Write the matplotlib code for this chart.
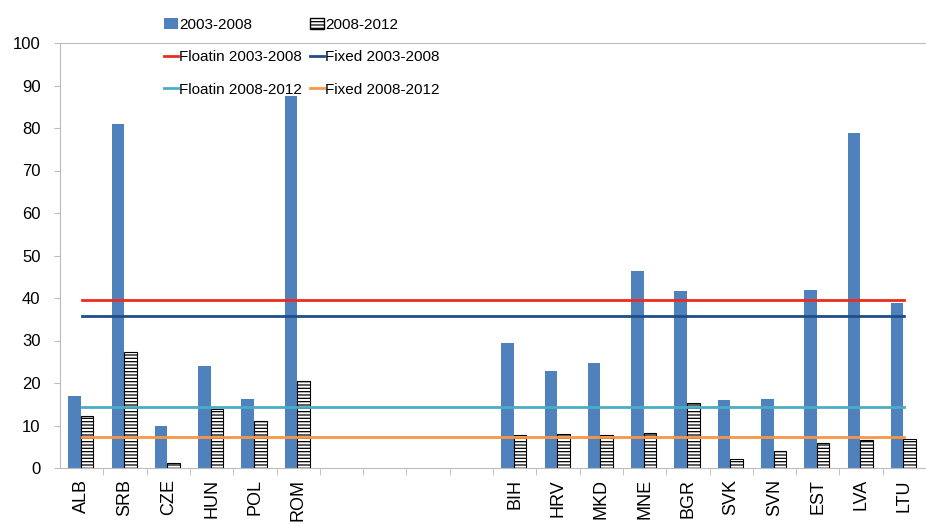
"""Exchange regime comparison: bar chart with group average lines."""

import matplotlib.pyplot as plt
import numpy as np
from matplotlib.patches import Patch
from matplotlib.lines import Line2D

plt.rcParams['font.family'] = ['Liberation Sans', 'DejaVu Sans']
plt.rcParams['hatch.linewidth'] = 0.9

# Categories (blank slots separate floating and fixed regimes)
countries = ['ALB', 'SRB', 'CZE', 'HUN', 'POL', 'ROM', '', '', '', '',
             'BIH', 'HRV', 'MKD', 'MNE', 'BGR', 'SVK', 'SVN', 'EST', 'LVA', 'LTU']
nan = np.nan
vals_0308 = [17.0, 81.0, 10.0, 24.0, 16.2, 87.5, nan, nan, nan, nan,
             29.3, 22.8, 24.8, 46.3, 41.7, 16.0, 16.3, 42.0, 78.8, 38.8]
vals_0812 = [12.2, 27.2, 1.2, 14.0, 11.0, 20.5, nan, nan, nan, nan,
             7.8, 8.0, 7.8, 8.3, 15.2, 2.2, 4.0, 5.8, 6.5, 6.8]

# Group averages
floating_0308 = 39.5
fixed_0308 = 35.8
floating_0812 = 14.3
fixed_0812 = 7.2

BLUE = '#4F81BD'
RED = '#EE2A1C'
NAVY = '#1F4E8A'
CYAN = '#4BACC6'
ORANGE = '#F79646'

fig = plt.figure(figsize=(9.26, 5.24), dpi=100)
ax = fig.add_axes([60 / 926, 56 / 524, 866 / 926, 425 / 524])

x = np.arange(len(countries))
w = 0.29
ax.bar(x - w / 2 - 0.02, vals_0308, w, color=BLUE, zorder=2)
ax.bar(x + w / 2 - 0.02, vals_0812, w, color='white', edgecolor='black',
       linewidth=0.8, hatch='-----', zorder=2)

xs = [x[0], x[-1]]
ax.plot(xs, [floating_0308] * 2, color=RED, lw=2, zorder=3)
ax.plot(xs, [fixed_0308] * 2, color=NAVY, lw=2, zorder=3)
ax.plot(xs, [floating_0812] * 2, color=CYAN, lw=2, zorder=3)
ax.plot(xs, [fixed_0812] * 2, color=ORANGE, lw=2, zorder=3)

ax.set_xlim(-0.5, 19.18)
ax.set_ylim(0, 100)
ax.set_yticks(np.arange(0, 101, 10))
ax.tick_params(axis='y', length=4, color='#BBBBBB', labelsize=12, pad=10)

ax.set_xticks(x)
ax.set_xticklabels(countries, rotation=90, fontsize=13)
ax.tick_params(axis='x', length=0, pad=8)
ax.set_xticks(np.arange(0.5, len(countries), 1), minor=True)
ax.tick_params(axis='x', which='minor', length=5, color='#BBBBBB')

for side in ['left', 'bottom', 'top']:
    ax.spines[side].set_color('#BBBBBB')
ax.spines['right'].set_visible(False)

handles = [
    Patch(facecolor=BLUE, label='2003-2008'),
    Line2D([], [], color=RED, lw=2, label='Floatin 2003-2008'),
    Line2D([], [], color=CYAN, lw=2, label='Floatin 2008-2012'),
    Patch(facecolor='white', edgecolor='black', hatch='-----', label='2008-2012'),
    Line2D([], [], color=NAVY, lw=2, label='Fixed 2003-2008'),
    Line2D([], [], color=ORANGE, lw=2, label='Fixed 2008-2012'),
]
fig.legend(handles=handles, ncol=2, loc='upper left',
           bbox_to_anchor=(158 / 926, 1 - 12 / 524), frameon=False,
           fontsize=11, handlelength=0.9, handletextpad=0.1,
           labelspacing=1.2, columnspacing=0.5, borderaxespad=0)

plt.savefig('out.png', dpi=100)
plt.close()
